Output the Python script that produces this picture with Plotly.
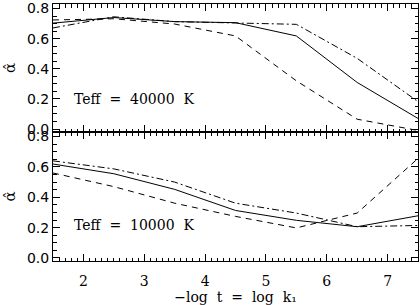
import plotly.graph_objects as go
from plotly.subplots import make_subplots

# ---- data ----
x_vals = [1.5, 2.5, 3.5, 4.5, 5.5, 6.5, 7.5]

# Teff = 40000 K panel
hot_solid   = [0.703, 0.740, 0.713, 0.706, 0.618, 0.309, 0.070]
hot_dashed  = [0.724, 0.732, 0.697, 0.618, 0.320, 0.065, -0.010]
hot_dashdot = [0.671, 0.745, 0.713, 0.706, 0.695, 0.469, 0.182]

# Teff = 10000 K panel
cool_solid   = [0.619, 0.555, 0.452, 0.313, 0.248, 0.206, 0.278]
cool_dashed  = [0.560, 0.470, 0.361, 0.274, 0.198, 0.296, 0.656]
cool_dashdot = [0.640, 0.587, 0.500, 0.361, 0.296, 0.206, 0.214]

x_ticks = [2, 3, 4, 5, 6, 7]
y_ticks = [0.0, 0.2, 0.4, 0.6, 0.8]
y_ticklabels = ["0.0", "0.2", "0.4", "0.6", "0.8"]
NB = "\u00a0\u00a0"
panel_labels = ["Teff" + NB + "=" + NB + "40000" + NB + "K",
                "Teff" + NB + "=" + NB + "10000" + NB + "K"]
x_title = "\u2212log" + NB + "t" + NB + "=" + NB + "log" + NB + "k\u2081"
y_title = "\u03b1\u0302"

SERIF = "DejaVu Serif, serif"
SANS = "DejaVu Sans, sans-serif"

fig = make_subplots(rows=2, cols=1, shared_xaxes=True, vertical_spacing=0)

styles = ["solid", "6px,5px", "7px,3px,2px,3px"]

for row, series in ((1, (hot_solid, hot_dashed, hot_dashdot)),
                    (2, (cool_solid, cool_dashed, cool_dashdot))):
    for dash, ys in zip(styles, series):
        fig.add_trace(go.Scatter(
            x=x_vals, y=ys, mode="lines",
            line=dict(color="black", width=1, dash=dash),
            showlegend=False, hoverinfo="skip"), row=row, col=1)

axis_common = dict(
    showline=True, linecolor="black", linewidth=1, mirror="ticks",
    ticks="inside", ticklen=7, tickwidth=1, tickcolor="black",
    showgrid=False, zeroline=False,
)

for r in (1, 2):
    fig.update_xaxes(
        range=[1.5, 7.5], tickvals=x_ticks,
        minor=dict(dtick=0.1, tick0=1.5, ticks="inside", ticklen=3.5,
                   tickcolor="black", tickwidth=1, showgrid=False),
        tickfont=dict(family=SERIF, size=14, color="black"),
        showticklabels=(r == 2),
        ticklabelstandoff=7,
        row=r, col=1, **axis_common)
    fig.update_yaxes(
        range=[-0.02, 0.83], tickvals=y_ticks, ticktext=y_ticklabels,
        minor=dict(dtick=0.05, tick0=0, ticks="inside", ticklen=3.5,
                   tickcolor="black", tickwidth=1, showgrid=False),
        tickfont=dict(family=SANS, size=14, color="black"),
        title=dict(text=y_title, font=dict(family=SERIF, size=15, color="black"),
                   standoff=7),
        row=r, col=1, **axis_common)

fig.update_xaxes(title=dict(text=x_title, font=dict(family=SERIF, size=14, color="black"),
                            standoff=5), row=2, col=1)

fig.update_layout(
    yaxis=dict(domain=[131 / 261, 1.0]),
    yaxis2=dict(domain=[0.0, 131 / 261]),
)

for label, yref, yv in ((panel_labels[0], "y", 0.202), (panel_labels[1], "y2", 0.214)):
    fig.add_annotation(x=1.81, y=yv, xref="x", yref=yref, text=label,
                       showarrow=False, xanchor="left", yanchor="middle",
                       font=dict(family=SERIF, size=14, color="black"))

fig.update_layout(
    width=420, height=305,
    margin=dict(l=53, r=2, t=1, b=43),
    paper_bgcolor="white", plot_bgcolor="white",
)

fig.write_html(
    "out.html",
    config={"displayModeBar": False, "staticPlot": True},
    post_script="document.body.style.margin='0';document.body.style.overflow='hidden';",
)
